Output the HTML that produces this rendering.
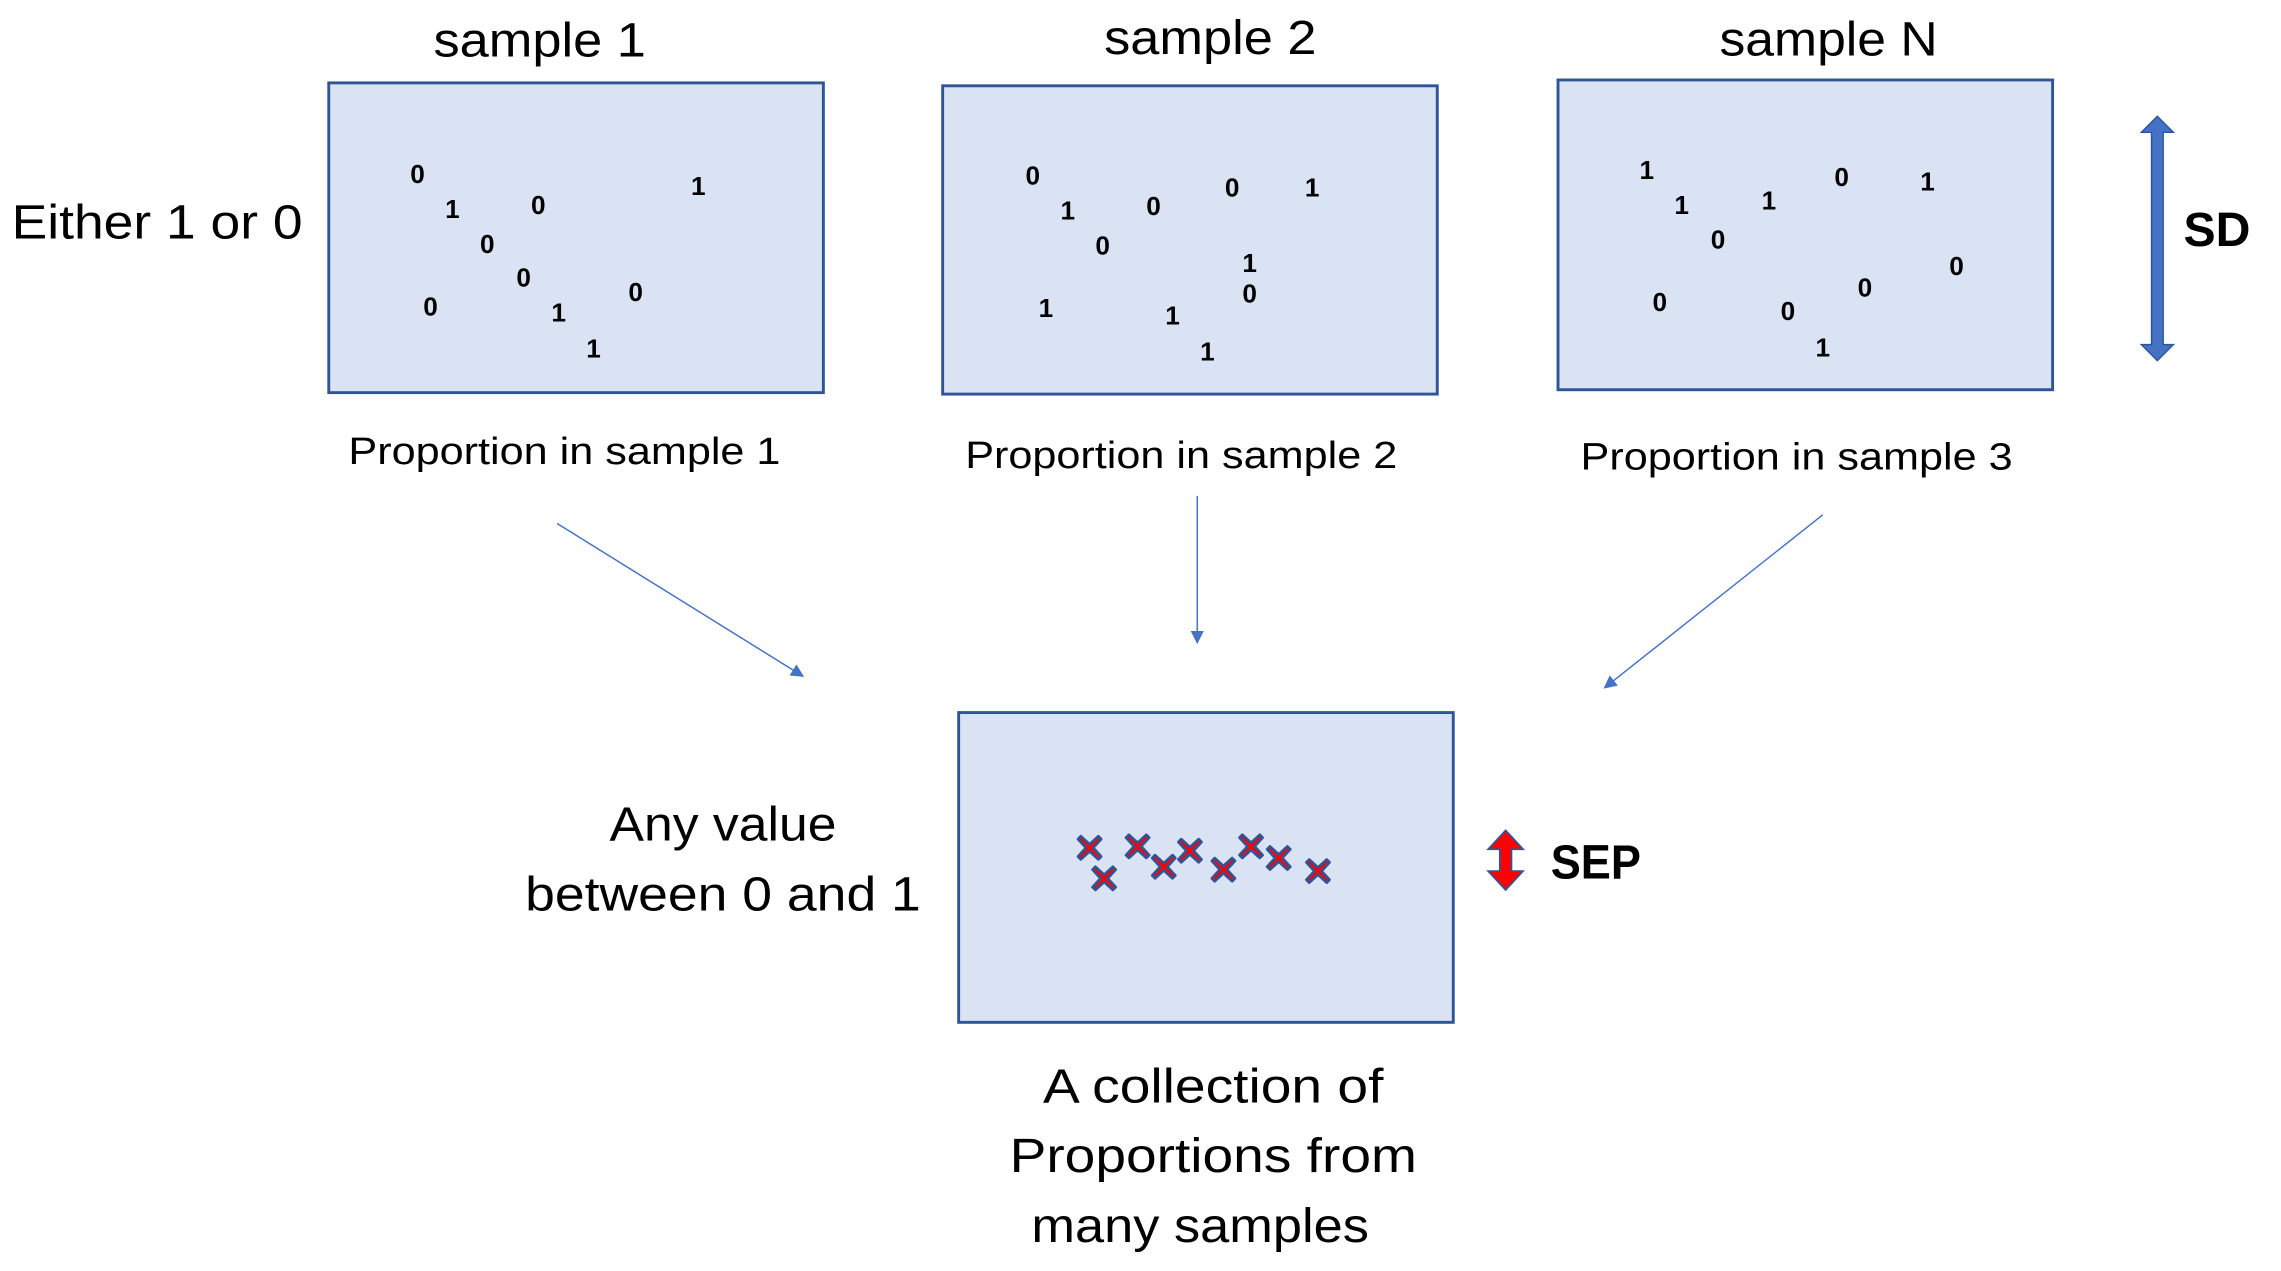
<!DOCTYPE html>
<html><head><meta charset="utf-8"><style>html,body{margin:0;padding:0;background:#fff}svg{display:block}</style></head>
<body>
<svg width="2281" height="1271" viewBox="0 0 1568 874" preserveAspectRatio="none" xmlns="http://www.w3.org/2000/svg" font-family="Liberation Sans, sans-serif">
<defs>
<marker id="ah" viewBox="0 0 10 10" refX="9" refY="5" markerWidth="10" markerHeight="9" orient="auto" markerUnits="userSpaceOnUse"><path d="M0,0 L10,5 L0,10 z" fill="#4472c4"/></marker>
<g id="xm"><path d="M-6,-8 L0,-2.5 L6,-8 L8,-6 L2.5,0 L8,6 L6,8 L0,2.5 L-6,8 L-8,6 L-2.5,0 L-8,-6 z" fill="#ff0000" stroke="#2f5597" stroke-width="1.8" stroke-linejoin="round"/></g>
</defs>
<g fill="#dae3f3" stroke="#2f5597" stroke-width="2">
<rect x="226" y="57" width="340" height="213"/>
<rect x="648" y="59" width="340" height="212"/>
<rect x="1071" y="55" width="340" height="213"/>
<rect x="659" y="490" width="340" height="213"/>
</g>
<g font-size="33" fill="#000" text-anchor="middle">
<text x="371" y="39" textLength="146" lengthAdjust="spacingAndGlyphs">sample 1</text>
<text x="832" y="37" textLength="146" lengthAdjust="spacingAndGlyphs">sample 2</text>
<text x="1257" y="38" textLength="150" lengthAdjust="spacingAndGlyphs">sample N</text>
<text x="108" y="164" textLength="200" lengthAdjust="spacingAndGlyphs">Either 1 or 0</text>
<text x="497" y="578" textLength="156" lengthAdjust="spacingAndGlyphs">Any value</text>
<text x="497" y="626" textLength="272" lengthAdjust="spacingAndGlyphs">between 0 and 1</text>
<text x="834" y="758" textLength="234" lengthAdjust="spacingAndGlyphs">A collection of</text>
<text x="834" y="806" textLength="280" lengthAdjust="spacingAndGlyphs">Proportions from</text>
<text x="825" y="854" textLength="232" lengthAdjust="spacingAndGlyphs">many samples</text>
</g>
<g font-size="26" fill="#000" text-anchor="middle">
<text x="388" y="319" textLength="297" lengthAdjust="spacingAndGlyphs">Proportion in sample 1</text>
<text x="812" y="322" textLength="297" lengthAdjust="spacingAndGlyphs">Proportion in sample 2</text>
<text x="1235" y="323" textLength="297" lengthAdjust="spacingAndGlyphs">Proportion in sample 3</text>
</g>
<g font-size="33" font-weight="bold" fill="#000">
<text x="1501" y="169" textLength="46" lengthAdjust="spacingAndGlyphs">SD</text>
<text x="1066" y="604" textLength="62" lengthAdjust="spacingAndGlyphs">SEP</text>
</g>
<g font-size="18" font-weight="bold" fill="#000" text-anchor="middle">
<text x="287" y="126">0</text><text x="311" y="150">1</text><text x="370" y="147">0</text><text x="335" y="174">0</text><text x="360" y="197">0</text><text x="296" y="217">0</text><text x="384" y="221">1</text><text x="437" y="207">0</text><text x="408" y="246">1</text><text x="480" y="134">1</text>
<text x="710" y="127">0</text><text x="734" y="151">1</text><text x="793" y="148">0</text><text x="758" y="175">0</text><text x="847" y="135">0</text><text x="902" y="135">1</text><text x="859" y="187">1</text><text x="859" y="208">0</text><text x="719" y="218">1</text><text x="806" y="223">1</text><text x="830" y="248">1</text>
<text x="1132" y="123">1</text><text x="1156" y="147">1</text><text x="1181" y="171">0</text><text x="1216" y="144">1</text><text x="1266" y="128">0</text><text x="1325" y="131">1</text><text x="1345" y="189">0</text><text x="1141" y="214">0</text><text x="1229" y="220">0</text><text x="1282" y="204">0</text><text x="1253" y="245">1</text>
</g>
<g stroke="#4472c4" stroke-width="1" marker-end="url(#ah)">
<line x1="383" y1="360" x2="552" y2="465"/>
<line x1="823" y1="341" x2="823" y2="442"/>
<line x1="1253" y1="354" x2="1103" y2="473"/>
</g>
<path d="M1483,80 L1494,91 L1487,91 L1487,237 L1494,237 L1483,248 L1472,237 L1479,237 L1479,91 L1472,91 z" fill="#4472c4" stroke="#2f5597" stroke-width="1"/>
<path d="M1035,571 L1047,584 L1039,584 L1039,599 L1047,599 L1035,612 L1023,599 L1031,599 L1031,584 L1023,584 z" fill="#ff0000" stroke="#2f5597" stroke-width="1.2"/>
<use href="#xm" x="749" y="583"/><use href="#xm" x="759" y="604"/><use href="#xm" x="782" y="582"/><use href="#xm" x="800" y="596"/><use href="#xm" x="818" y="585"/><use href="#xm" x="841" y="598"/><use href="#xm" x="860" y="582"/><use href="#xm" x="879" y="590"/><use href="#xm" x="906" y="599"/>
</svg>
</body></html>
